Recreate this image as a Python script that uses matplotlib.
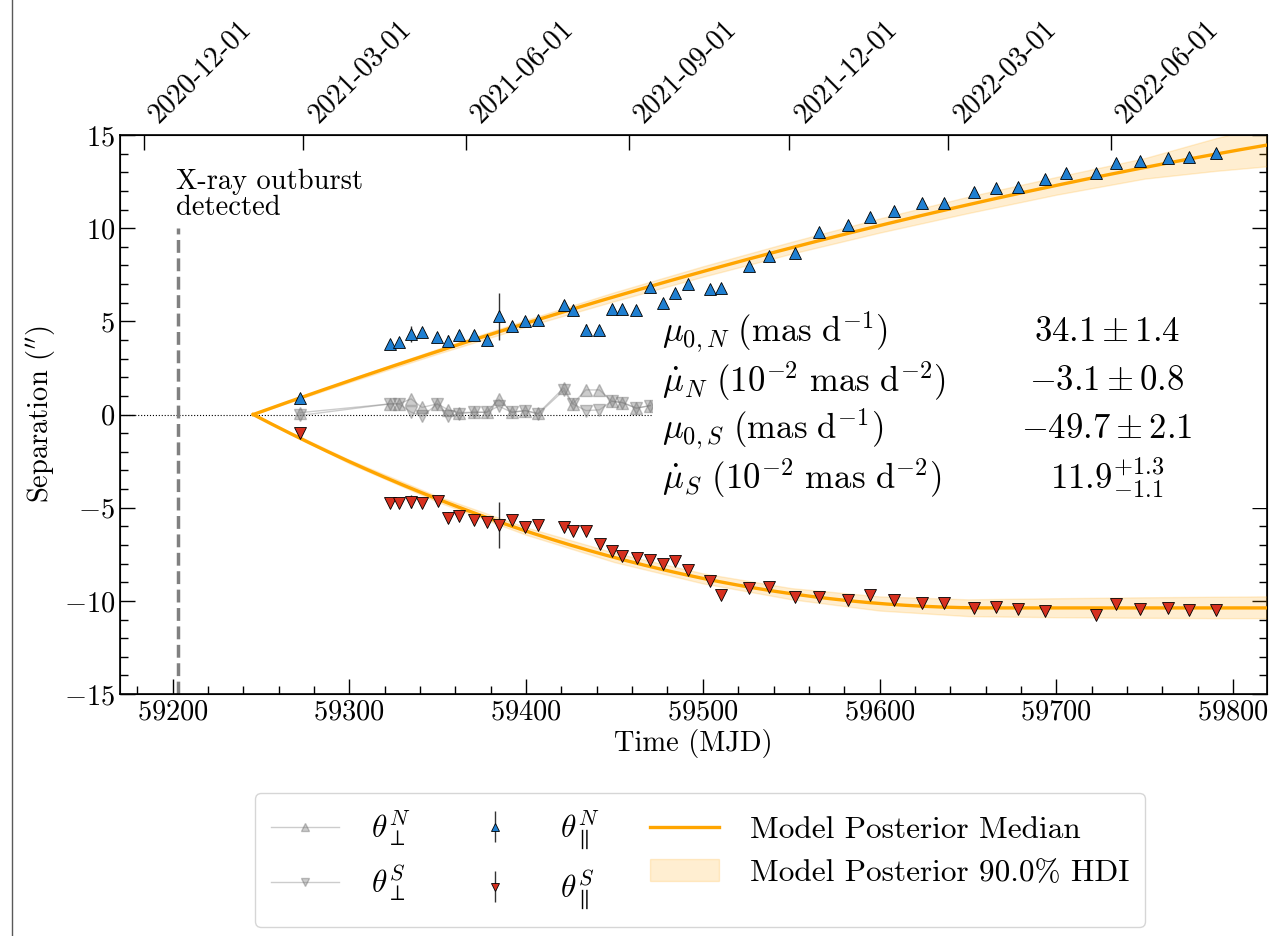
import numpy as np
import pandas as pd
import matplotlib
matplotlib.use("Agg")
from matplotlib import pyplot as plt
from matplotlib.lines import Line2D
from matplotlib.patches import Rectangle
from matplotlib.ticker import MultipleLocator

plt.rcParams['font.family'] = 'serif'
plt.rcParams['font.serif'] = ['cmr10']
plt.rcParams['mathtext.fontset'] = 'cm'
plt.rcParams['axes.formatter.use_mathtext'] = True
plt.rcParams['axes.unicode_minus'] = True

# parallel separations (arcsec) of the north / south components
t_N = [59272.1, 59323.0, 59328.1, 59334.9, 59341.1, 59349.8, 59356.0, 59361.9, 59370.5, 59377.7,
       59384.5, 59391.9, 59399.6, 59406.8, 59421.3, 59426.4, 59433.8, 59441.5, 59448.5, 59454.5,
       59462.4, 59470.3, 59477.7, 59484.3, 59491.5, 59504.1, 59510.2, 59526.4, 59537.4, 59551.9,
       59566.0, 59582.1, 59594.7, 59607.9, 59624.0, 59636.6, 59653.7, 59665.8, 59678.6, 59693.8,
       59705.5, 59722.2, 59733.6, 59747.5, 59763.4, 59775.3, 59790.1]
sep_N = [0.89, 3.79, 3.91, 4.32, 4.43, 4.16, 3.96, 4.29, 4.29, 4.02,
         5.27, 4.77, 5.02, 5.07, 5.88, 5.59, 4.54, 4.54, 5.68, 5.68,
         5.62, 6.86, 5.98, 6.52, 7.00, 6.75, 6.79, 7.95, 8.48, 8.66,
         9.82, 10.16, 10.62, 10.94, 11.36, 11.34, 11.96, 12.18, 12.20, 12.63,
         12.95, 12.98, 13.48, 13.61, 13.75, 13.84, 14.02]
err_N = [0.1, 0.1, 0.1, 0.45, 0.1, 0.1, 0.3, 0.1, 0.1, 0.1,
         1.25, 0.1, 0.1, 0.1, 0.1, 0.1, 0.3, 0.1, 0.1, 0.1,
         0.1, 0.1, 0.1, 0.1, 0.1, 0.1, 0.1, 0.1, 0.1, 0.1,
         0.1, 0.1, 0.1, 0.1, 0.1, 0.1, 0.1, 0.1, 0.1, 0.1,
         0.1, 0.1, 0.1, 0.1, 0.1, 0.1, 0.1]

t_S = [59272.1, 59323.0, 59328.1, 59335.1, 59341.1, 59350.0, 59356.0, 59361.9, 59370.7, 59377.9,
       59384.9, 59391.9, 59399.6, 59406.8, 59421.5, 59426.8, 59433.8, 59441.7, 59448.8, 59454.5,
       59462.6, 59470.2, 59477.7, 59484.3, 59491.5, 59504.1, 59510.2, 59526.4, 59537.4, 59551.9,
       59566.0, 59581.9, 59594.7, 59607.9, 59624.0, 59636.6, 59653.7, 59665.8, 59678.6, 59693.8,
       59722.2, 59733.6, 59747.5, 59763.4, 59775.3, 59790.1]
sep_S = [-0.98, -4.73, -4.73, -4.68, -4.73, -4.64, -5.54, -5.45, -5.64, -5.75,
         -5.93, -5.68, -6.04, -5.95, -6.04, -6.25, -6.25, -6.93, -7.32, -7.59,
         -7.70, -7.80, -8.04, -7.86, -8.34, -8.93, -9.70, -9.29, -9.23, -9.77,
         -9.77, -9.95, -9.68, -9.95, -10.13, -10.14, -10.36, -10.32, -10.45, -10.54,
         -10.75, -10.18, -10.45, -10.36, -10.50, -10.50]
err_S = [0.1, 0.1, 0.1, 0.35, 0.1, 0.1, 0.3, 0.1, 0.1, 0.1,
         1.25, 0.1, 0.1, 0.1, 0.1, 0.1, 0.1, 0.1, 0.1, 0.1,
         0.1, 0.1, 0.1, 0.1, 0.1, 0.1, 0.1, 0.1, 0.1, 0.1,
         0.1, 0.1, 0.1, 0.1, 0.1, 0.1, 0.1, 0.1, 0.1, 0.1,
         0.1, 0.1, 0.1, 0.1, 0.1, 0.1]

# perpendicular offsets (visible part, left of the parameter table)
t_perp = t_N[:22]
perp_N = [0.10, 0.57, 0.57, 0.84, 0.38, 0.57, 0.25, 0.10, 0.12, 0.12, 0.82,
          0.12, 0.21, 0.06, 1.43, 0.57, 1.32, 1.32, 0.71, 0.64, 0.34, 0.48]
perp_S = [-0.05, 0.57, 0.57, 0.13, -0.10, 0.57, -0.10, 0.05, 0.12, 0.12, 0.45,
          0.12, 0.21, 0.02, 1.29, 0.57, 0.21, 0.25, 0.71, 0.64, 0.34, 0.48]

# posterior parameters
t0 = 59245.6
mu0_N, mudot_N = 34.1, -3.1     # mas/d, 1e-2 mas/d^2
mu0_S, mudot_S = -49.7, 11.9

# 90% HDI half widths
band_t = [59245.6, 59300, 59350, 59400, 59450, 59500, 59550, 59600, 59650, 59700, 59750, 59790, 59820]
hdi_N_up = [0.0, 0.08, 0.13, 0.18, 0.24, 0.28, 0.32, 0.38, 0.43, 0.45, 0.50, 0.85, 1.05]
hdi_N_dn = [0.0, 0.08, 0.13, 0.18, 0.24, 0.28, 0.32, 0.38, 0.45, 0.50, 0.60, 0.90, 1.15]
hdi_S_up = [0.0, 0.10, 0.15, 0.20, 0.25, 0.27, 0.30, 0.38, 0.45, 0.52, 0.57, 0.60, 0.62]
hdi_S_dn = [0.0, 0.10, 0.15, 0.20, 0.25, 0.27, 0.30, 0.38, 0.45, 0.50, 0.53, 0.55, 0.55]

date_ticks = ['2020-12-01', '2021-03-01', '2021-06-01', '2021-09-01',
              '2021-12-01', '2022-03-01', '2022-06-01']
t_outburst = 59202.8

param_labels = [r'$\mu_{0,N}\ (\mathrm{mas\ d}^{-1})$',
                r'$\dot{\mu}_N\ (10^{-2}\ \mathrm{mas\ d}^{-2})$',
                r'$\mu_{0,S}\ (\mathrm{mas\ d}^{-1})$',
                r'$\dot{\mu}_S\ (10^{-2}\ \mathrm{mas\ d}^{-2})$']
param_values = [r'$34.1 \pm 1.4$', r'$-3.1 \pm 0.8$', r'$-49.7 \pm 2.1$', r'$11.9^{+1.3}_{-1.1}$']


def model_N(t):
    dt = np.asarray(t) - t0
    return (mu0_N * dt + 0.5 * mudot_N * 1e-2 * dt**2) / 1000.


def model_S(t):
    dt = np.asarray(t) - t0
    dt = np.minimum(dt, -mu0_S / (mudot_S * 1e-2))  # stops once decelerated to rest
    return (mu0_S * dt + 0.5 * mudot_S * 1e-2 * dt**2) / 1000.


blue = '#1f7fd1'
red = '#d7301f'
orange = '#ffa500'

fig = plt.figure(figsize=(12.83, 9.36), dpi=100)
ax = fig.add_axes([0.0935, 0.2585, 0.894, 0.5973])

ax.axhline(0, color='k', ls=':', lw=0.8, zorder=1)
ax.plot([t_outburst, t_outburst], [-15, 10], ls='--', color='#808080', lw=2.5, zorder=1)
ax.text(t_outburst - 1, 10.4, 'X-ray outburst\ndetected', fontsize=20.5, ha='left', va='bottom',
        linespacing=0.95)

l_pN, = ax.plot(t_perp, perp_N, '^-', color='gray', mec='dimgray', alpha=0.4, lw=1, ms=9, zorder=2)
l_pS, = ax.plot(t_perp, perp_S, 'v-', color='gray', mec='dimgray', alpha=0.4, lw=1, ms=9, zorder=2)

# white background of the parameter table
ax.add_patch(Rectangle((59472, -5.0), 400, 10.5, facecolor='white', edgecolor='none', zorder=2.5))

bt = np.array(band_t)
band = ax.fill_between(bt, model_N(bt) - np.array(hdi_N_dn), model_N(bt) + np.array(hdi_N_up),
                       color=orange, alpha=0.18, lw=1, zorder=2.6)
ax.fill_between(bt, model_S(bt) - np.array(hdi_S_dn), model_S(bt) + np.array(hdi_S_up),
                color=orange, alpha=0.18, lw=1, zorder=2.6)
tt = np.linspace(t0, 59830, 500)
l_med, = ax.plot(tt, model_N(tt), color=orange, lw=2.4, zorder=3)
ax.plot(tt, model_S(tt), color=orange, lw=2.4, zorder=3)

e_N = ax.errorbar(t_N, sep_N, yerr=err_N, fmt='^', color=blue, mec='k', mew=0.6, ms=9,
                  ecolor='#333333', elinewidth=1, zorder=4)
e_S = ax.errorbar(t_S, sep_S, yerr=err_S, fmt='v', color=red, mec='k', mew=0.6, ms=9,
                  ecolor='#333333', elinewidth=1, zorder=4)

for i in range(4):
    y = 4.4 - 2.6 * i
    ax.text(59477, y, param_labels[i], fontsize=25, ha='left', va='center', zorder=5)
    ax.text(59728.5, y, param_values[i], fontsize=25, ha='center', va='center', zorder=5)

ax.set_xlim(59170.2, 59819.2)
ax.set_ylim(-15, 15)
ax.xaxis.set_major_locator(MultipleLocator(100))
ax.xaxis.set_minor_locator(MultipleLocator(20))
ax.yaxis.set_major_locator(MultipleLocator(5))
ax.yaxis.set_minor_locator(MultipleLocator(1))
ax.tick_params(which='both', direction='in', right=True, top=False, labelsize=20.5, width=1)
ax.tick_params(which='major', length=11)
ax.tick_params(which='minor', length=5.5)
ax.set_xlabel('Time (MJD)', fontsize=20.5, labelpad=3)
ax.set_ylabel(r'Separation (${}^{\prime\prime}$)', fontsize=20.5)
for s in ax.spines.values():
    s.set_linewidth(1.2)

ax2 = ax.twiny()
ax2.set_xlim(ax.get_xlim())
mjd_ticks = [(pd.Timestamp(d) - pd.Timestamp('1858-11-17')).days for d in date_ticks]
ax2.set_xticks(mjd_ticks)
ax2.set_xticklabels(date_ticks, rotation=45, ha='left', va='bottom')
ax2.tick_params(direction='in', length=11, width=1, labelsize=20.5, pad=5)
ax2.xaxis.set_minor_locator(plt.NullLocator())

handles = [l_pN, l_pS, e_N, e_S, l_med, band]
labels = [r'$\theta_{\perp}^{N}$', r'$\theta_{\perp}^{S}$',
          r'$\theta_{\parallel}^{N}$', r'$\theta_{\parallel}^{S}$',
          'Model Posterior Median', 'Model Posterior 90.0% HDI']
fig.legend(handles, labels, loc='upper center', bbox_to_anchor=(0.5456, 0.153), ncol=3,
           fontsize=22.5, markerscale=0.6, handlelength=2.2, handletextpad=1.0, columnspacing=1.6,
           borderpad=0.5, labelspacing=0.5, borderaxespad=0, frameon=True)

fig.add_artist(Line2D([12 / 1283, 12 / 1283], [0, 1], transform=fig.transFigure, color='0.35', lw=1))

fig.savefig('out.png', dpi=100)
